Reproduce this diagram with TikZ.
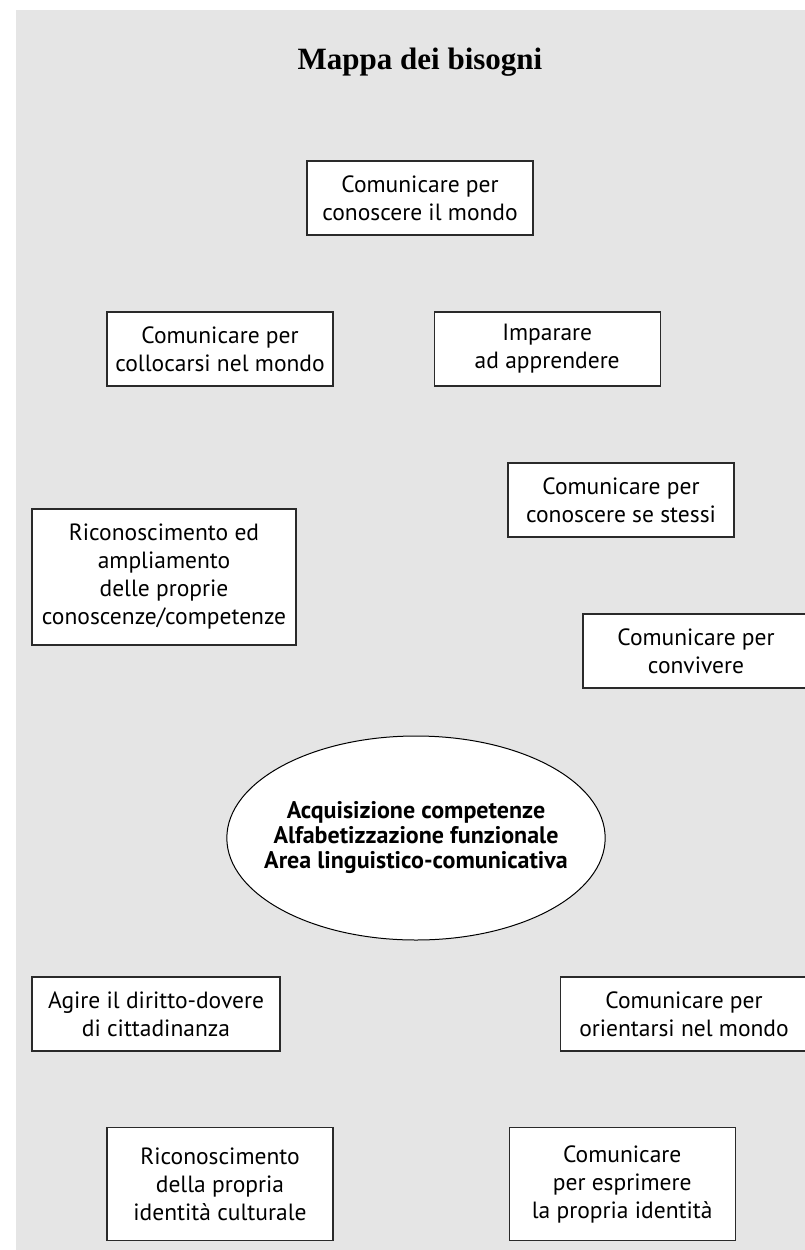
\documentclass[tikz,border=0pt]{standalone}
\usepackage{fontspec}
\setsansfont{PT Sans}
\newfontfamily\titlefont{Liberation Serif}
\usepackage{tikz}
\usetikzlibrary{shapes}
\usetikzlibrary{positioning}
\usepackage{xcolor}
\definecolor{map-bg}{HTML}{E5E5E5}
\definecolor{map-line}{HTML}{2A2A2A}
\tikzset{x=1pt, y=-1pt, every text node part/.style={align=center, font={\sffamily\fontsize{23.5}{28}\selectfont}}}
\tikzstyle{block} = [draw=map-line, fill=white, line width=1.2pt, inner sep=0pt, minimum width=226pt, minimum height=74pt]
\tikzstyle{core} = [ellipse, draw=black, fill=white, line width=1pt, inner xsep=-18pt, inner ysep=0pt, minimum width=368pt, minimum height=204pt, every text node part/.style={align=center, font={\sffamily\bfseries\fontsize{24}{25}\selectfont}}]
\tikzstyle{heading} = [every text node part/.style={align=center, font={\titlefont\bfseries\fontsize{31}{36}\selectfont}}]
\begin{document}
\begin{tikzpicture}
      \useasboundingbox (0,0) rectangle (805,1250);
      \fill[map-bg] (16,10) rectangle (805,1250);
      \node[heading] (title) at (420,62) {Mappa dei bisogni};
      % upper half
      \node[block] (mondo) at (420,198) {Comunicare per\\conoscere il mondo};
      \node[block] (colloc) at (220,349) {Comunicare per\\collocarsi nel mondo};
      \node[block, right=100pt of colloc] (impar) {Imparare\\ad apprendere};
      \node[block] (stessi) at (621,500) {Comunicare per\\conoscere se stessi};
      \node[block, minimum width=264pt, minimum height=136pt] (ricon) at (164,577) {Riconoscimento ed\\ampliamento\\delle proprie\\conoscenze/competenze};
      \node[block] (conviv) at (696,651) {Comunicare per\\convivere};
      % centre
      \node[core] (area) at (416,838) {Acquisizione competenze\\Alfabetizzazione funzionale\\Area linguistico-comunicativa};
      % lower half
      \node[block, minimum width=248pt] (agire) at (156,1014) {Agire il diritto-dovere\\di cittadinanza};
      \node[block, minimum width=247pt] (orient) at (684,1014) {Comunicare per\\orientarsi nel mondo};
      \node[block, minimum height=113pt] (ident) at (220,1184) {Riconoscimento\\della propria\\identità culturale};
      \node[block, minimum height=113pt, right=175pt of ident] (espr) {Comunicare\\per esprimere\\la propria identità};
    \end{tikzpicture}
\end{document}
